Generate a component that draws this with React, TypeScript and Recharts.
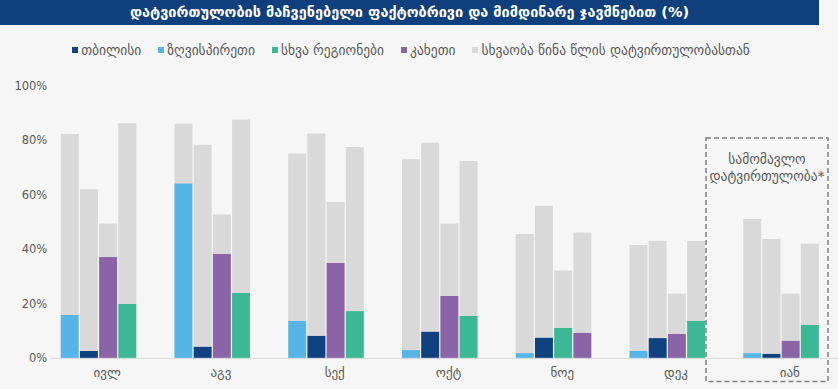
import React from 'react';
import { BarChart, Bar, XAxis, YAxis, Cell } from 'recharts';

const title = 'დატვირთულობის მაჩვენებელი ფაქტობრივი და მიმდინარე ჯავშნებით (%)';
const months = ['ივლ', 'აგვ', 'სექ', 'ოქტ', 'ნოე', 'დეკ', 'იან'];
const yTicks = [0, 20, 40, 60, 80, 100];

// occupancy (%)
const tbilisi = [2.7, 4.3, 8.3, 9.8, 7.6, 7.4, 1.7];
const coast = [15.9, 64.2, 13.8, 3.0, 1.9, 2.8, 1.9];
const otherRegions = [20.0, 24.0, 17.3, 15.5, 11.2, 13.8, 12.2];
const kakheti = [37.1, 38.3, 35.0, 22.9, 9.4, 9.0, 6.5];

// difference with previous year's occupancy (%)
const tbilisiDiff = [59.3, 74.0, 74.1, 69.2, 48.3, 35.7, 42.0];
const coastDiff = [66.3, 21.8, 61.3, 70.0, 43.7, 38.7, 49.2];
const otherRegionsDiff = [66.2, 63.5, 60.2, 56.8, 21.0, 29.2, 29.8];
const kakhetiDiff = [12.3, 14.4, 22.3, 26.5, 36.7, 14.7, 17.2];

// which series is drawn in the third slot of each month
const thirdSlot = ['kakheti', 'kakheti', 'kakheti', 'kakheti', 'other', 'kakheti', 'kakheti'];

const legendNames = ['თბილისი', 'ზღვისპირეთი', 'სხვა რეგიონები', 'კახეთი', 'სხვაობა წინა წლის დატვირთულობასთან'];
const forecastLabel = ['სამომავლო', 'დატვირთულობა*'];

const COLORS = {
  tbilisi: '#0f427f',
  coast: '#56b5e6',
  other: '#3db894',
  kakheti: '#8b64a8',
  diff: '#d9d9d9',
};
const legendColors = [COLORS.tbilisi, COLORS.coast, COLORS.other, COLORS.kakheti, COLORS.diff];

const rows = months.map((m, i) => {
  const k3 = thirdSlot[i] === 'kakheti';
  return {
    month: m,
    s1: coast[i],
    s1d: coastDiff[i],
    s2: tbilisi[i],
    s2d: tbilisiDiff[i],
    s3: k3 ? kakheti[i] : otherRegions[i],
    s3d: k3 ? kakhetiDiff[i] : otherRegionsDiff[i],
    c3: k3 ? COLORS.kakheti : COLORS.other,
    s4: k3 ? otherRegions[i] : kakheti[i],
    s4d: k3 ? otherRegionsDiff[i] : kakhetiDiff[i],
    c4: k3 ? COLORS.other : COLORS.kakheti,
    pad: null,
  };
});

const FONT = '"DejaVu Sans", sans-serif';
const TEXT = '#595959';

export default function App() {
  return (
    <div
      style={{
        position: 'absolute',
        left: 0,
        top: 0,
        width: 838,
        height: 389,
        overflow: 'hidden',
        background: '#f6f6f6',
        fontFamily: FONT,
      }}
    >
      <div
        style={{
          position: 'absolute',
          left: 0,
          top: 0,
          width: 819,
          height: 25,
          background: '#0f3f7c',
          color: '#ffffff',
          fontWeight: 'bold',
          fontSize: 14.5,
          lineHeight: '25px',
          textAlign: 'center',
          whiteSpace: 'nowrap',
        }}
      >
        {title}
      </div>
      <div
        style={{
          position: 'absolute',
          left: 0,
          top: 41,
          width: 822,
          display: 'flex',
          justifyContent: 'center',
          alignItems: 'center',
          gap: 17,
          fontSize: 13.5,
          lineHeight: '18px',
          color: TEXT,
          whiteSpace: 'nowrap',
        }}
      >
        {legendNames.map((n, i) => (
          <div key={n} style={{ display: 'flex', alignItems: 'center' }}>
            <span
              style={{ width: 6, height: 6, background: legendColors[i], marginRight: 3, display: 'inline-block' }}
            />
            <span>{n}</span>
          </div>
        ))}
      </div>
      <div style={{ position: 'absolute', left: 0, top: 0 }}>
        <BarChart
          width={870}
          height={389}
          data={rows}
          margin={{ top: 85.5, right: 23.4, bottom: 6, left: 0 }}
          barCategoryGap={10.4}
          barGap={1.2}
        >
          <XAxis
            dataKey="month"
            tickLine={false}
            axisLine={{ stroke: '#d9d9d9' }}
            tick={{ fill: TEXT, fontSize: 13, fontFamily: FONT }}
            tickMargin={3}
            height={24.7}
            interval={0}
          />
          <YAxis
            domain={[0, 100]}
            ticks={yTicks}
            tickFormatter={(v) => `${v}%`}
            axisLine={false}
            tickLine={false}
            tickSize={0}
            tickMargin={3}
            width={50.3}
            tick={{ fill: TEXT, fontSize: 11.5, fontFamily: FONT }}
          />
          <Bar dataKey="s1" stackId="a" fill={COLORS.coast} isAnimationActive={false} />
          <Bar dataKey="s1d" stackId="a" fill={COLORS.diff} isAnimationActive={false} />
          <Bar dataKey="s2" stackId="b" fill={COLORS.tbilisi} isAnimationActive={false} />
          <Bar dataKey="s2d" stackId="b" fill={COLORS.diff} isAnimationActive={false} />
          <Bar dataKey="s3" stackId="c" isAnimationActive={false}>
            {rows.map((r) => (
              <Cell key={r.month} fill={r.c3} />
            ))}
          </Bar>
          <Bar dataKey="s3d" stackId="c" fill={COLORS.diff} isAnimationActive={false} />
          <Bar dataKey="s4" stackId="d" isAnimationActive={false}>
            {rows.map((r) => (
              <Cell key={r.month} fill={r.c4} />
            ))}
          </Bar>
          <Bar dataKey="s4d" stackId="d" fill={COLORS.diff} isAnimationActive={false} />
          <Bar dataKey="pad" stackId="e" fill="none" isAnimationActive={false} />
        </BarChart>
      </div>
      <svg
        width={838}
        height={389}
        style={{ position: 'absolute', left: 0, top: 0, pointerEvents: 'none' }}
      >
        <rect
          x={706}
          y={138}
          width={122}
          height={243.5}
          fill="none"
          stroke="#7f7f7f"
          strokeWidth={1.5}
          strokeDasharray="5 3"
        />
        <text x={767} y={164} textAnchor="middle" fill={TEXT} fontSize={13.5} fontFamily={FONT}>
          {forecastLabel[0]}
        </text>
        <text x={767} y={181} textAnchor="middle" fill={TEXT} fontSize={13.5} fontFamily={FONT}>
          {forecastLabel[1]}
        </text>
      </svg>
    </div>
  );
}
